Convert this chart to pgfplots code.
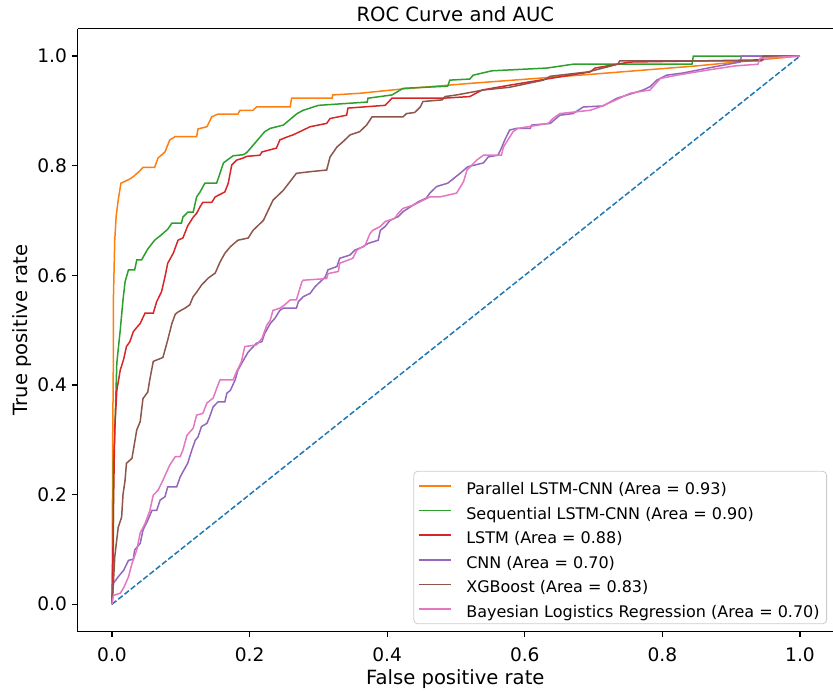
\documentclass[border=0pt]{standalone}
\usepackage{fontspec}
\setmainfont{DejaVu Sans}
\usepackage{pgfplots}
\pgfplotsset{compat=1.18}
\definecolor{cblue}{HTML}{1F77B4}
\definecolor{corange}{HTML}{FF7F0E}
\definecolor{cgreen}{HTML}{2CA02C}
\definecolor{cred}{HTML}{D62728}
\definecolor{cpurple}{HTML}{9467BD}
\definecolor{cbrown}{HTML}{8C564B}
\definecolor{cpink}{HTML}{E377C2}
\begin{document}
\begin{tikzpicture}
\begin{axis}[
  width=377.7pt, height=301.5pt, scale only axis,
  xmin=-0.05, xmax=1.048, ymin=-0.05, ymax=1.05,
  clip=false,
  axis x line*=box, axis y line*=left,
  axis line style={-, line width=0.6pt, black},
  tick pos=left, tick align=outside,
  major tick length=2.8pt,
  every tick/.style={black, line width=0.6pt},
  xtick={0,0.2,0.4,0.6,0.8,1}, ytick={0,0.2,0.4,0.6,0.8,1},
  xticklabels={0.0,0.2,0.4,0.6,0.8,1.0},
  yticklabels={0.0,0.2,0.4,0.6,0.8,1.0},
  tick label style={font=\fontsize{9.3}{11}\selectfont},
  xticklabel style={yshift=-1.5pt},
  yticklabel style={xshift=1pt},
  xlabel={False positive rate},
  xlabel style={font=\fontsize{9.8}{12}\selectfont, at={(axis description cs:0.5,-0.0872)}, anchor=base},
  ylabel={True positive rate},
  ylabel style={font=\fontsize{9.8}{12}\selectfont, at={(axis description cs:-0.0661,0.5)}, anchor=base, rotate=0},
  legend cell align=left,
  legend style={at={(1,0)}, anchor=south east, xshift=-3pt, yshift=3.7pt,
    draw=gray!40, rounded corners=2pt, fill=white, fill opacity=0.8, text opacity=1,
    font=\fontsize{8}{10}\selectfont, inner xsep=2pt, inner ysep=1.5pt,
    nodes={inner xsep=1.5pt, inner ysep=1.6pt, text height=8.5pt, text depth=0.1pt},
    row sep=0.5pt,
    /tikz/every odd column/.append style={column sep=6pt}},
  legend image code/.code={\draw[#1, line width=0.75pt] (0pt,0pt) -- (16pt,0pt);},
  every axis plot/.append style={line width=0.75pt},
]
\addplot[cblue, dash pattern=on 2.8pt off 1.2pt, forget plot] coordinates {(0,0) (1,1)};
\addplot[corange] coordinates {
(0,0) (0.0005,0.1) (0.001,0.3) (0.002,0.45) (0.002,0.555) (0.004,0.664) (0.006,0.707) (0.009,0.737) (0.013,0.768) (0.025,0.775) (0.031,0.78) (0.04,0.79) (0.045,0.797) (0.062,0.797) (0.067,0.814) (0.077,0.825) (0.084,0.847) (0.092,0.853) (0.123,0.853) (0.125,0.867) (0.138,0.871) (0.145,0.889) (0.154,0.894) (0.183,0.894) (0.186,0.901) (0.205,0.901) (0.21,0.907) (0.259,0.907) (0.261,0.923) (0.32,0.923) (0.321,0.929) (0.36,0.932) (0.423,0.94) (0.52,0.95) (0.70,0.967) (0.85,0.982) (1,1)};
\addlegendentry{Parallel LSTM-CNN (Area = 0.93)}
\addplot[cgreen] coordinates {
(0,0) (0.001,0.05) (0.002,0.11) (0.002,0.257) (0.004,0.31) (0.007,0.44) (0.012,0.5) (0.016,0.555) (0.019,0.588) (0.024,0.61) (0.033,0.61) (0.036,0.628) (0.043,0.628) (0.052,0.648) (0.062,0.664) (0.07,0.672) (0.081,0.684) (0.087,0.695) (0.101,0.695) (0.103,0.706) (0.11,0.715) (0.118,0.715) (0.123,0.743) (0.128,0.752) (0.135,0.768) (0.152,0.768) (0.157,0.786) (0.162,0.805) (0.176,0.818) (0.191,0.82) (0.196,0.824) (0.222,0.862) (0.23,0.868) (0.249,0.874) (0.269,0.895) (0.278,0.901) (0.3,0.91) (0.371,0.916) (0.372,0.923) (0.407,0.929) (0.423,0.941) (0.488,0.945) (0.491,0.956) (0.52,0.958) (0.525,0.965) (0.552,0.973) (0.632,0.978) (0.67,0.985) (0.843,0.985) (0.845,1.0) (1,1)};
\addlegendentry{Sequential LSTM-CNN (Area = 0.90)}
\addplot[cred] coordinates {
(0,0) (0.001,0.05) (0.002,0.17) (0.004,0.32) (0.007,0.39) (0.012,0.427) (0.017,0.447) (0.021,0.47) (0.026,0.479) (0.031,0.497) (0.036,0.505) (0.041,0.512) (0.048,0.531) (0.06,0.531) (0.065,0.552) (0.072,0.57) (0.077,0.597) (0.081,0.622) (0.089,0.64) (0.096,0.664) (0.103,0.668) (0.11,0.69) (0.118,0.706) (0.123,0.713) (0.128,0.725) (0.132,0.733) (0.145,0.733) (0.15,0.743) (0.164,0.752) (0.169,0.768) (0.174,0.801) (0.181,0.81) (0.191,0.814) (0.196,0.817) (0.215,0.819) (0.218,0.825) (0.239,0.832) (0.244,0.847) (0.256,0.853) (0.263,0.856) (0.288,0.871) (0.312,0.877) (0.317,0.886) (0.341,0.892) (0.343,0.905) (0.397,0.910) (0.407,0.923) (0.481,0.923) (0.52,0.926) (0.538,0.938) (0.579,0.947) (0.627,0.957) (0.695,0.971) (0.702,0.978) (0.753,0.989) (0.946,0.993) (0.948,1.0) (1,1)};
\addlegendentry{LSTM (Area = 0.88)}
\addplot[cpurple] coordinates {
(0,0) (0.002,0.038) (0.009,0.05) (0.017,0.062) (0.024,0.08) (0.031,0.082) (0.033,0.099) (0.041,0.111) (0.045,0.135) (0.052,0.153) (0.058,0.171) (0.065,0.171) (0.07,0.19) (0.077,0.196) (0.081,0.214) (0.094,0.214) (0.099,0.232) (0.106,0.248) (0.11,0.257) (0.116,0.281) (0.121,0.299) (0.125,0.305) (0.13,0.324) (0.138,0.33) (0.142,0.342) (0.147,0.36) (0.154,0.369) (0.164,0.369) (0.167,0.385) (0.172,0.39) (0.179,0.409) (0.183,0.427) (0.191,0.445) (0.198,0.46) (0.21,0.476) (0.218,0.479) (0.222,0.494) (0.23,0.512) (0.237,0.522) (0.244,0.536) (0.249,0.54) (0.268,0.54) (0.271,0.552) (0.278,0.561) (0.288,0.567) (0.295,0.579) (0.31,0.597) (0.314,0.61) (0.327,0.616) (0.331,0.631) (0.346,0.637) (0.353,0.646) (0.365,0.652) (0.372,0.658) (0.387,0.664) (0.39,0.682) (0.397,0.689) (0.404,0.7) (0.416,0.707) (0.423,0.716) (0.445,0.734) (0.457,0.741) (0.462,0.75) (0.472,0.762) (0.488,0.768) (0.506,0.786) (0.517,0.798) (0.54,0.805) (0.547,0.816) (0.561,0.819) (0.566,0.832) (0.571,0.847) (0.578,0.865) (0.588,0.868) (0.608,0.868) (0.61,0.874) (0.637,0.877) (0.651,0.892) (0.67,0.895) (0.685,0.907) (0.714,0.909) (0.734,0.923) (0.757,0.932) (0.772,0.938) (0.782,0.944) (0.792,0.956) (0.806,0.965) (0.83,0.969) (0.866,0.978) (0.913,0.989) (0.915,1.0) (1,1)};
\addlegendentry{CNN (Area = 0.70)}
\addplot[cbrown] coordinates {
(0,0) (0.001,0.02) (0.002,0.038) (0.004,0.086) (0.009,0.14) (0.014,0.159) (0.016,0.2) (0.019,0.226) (0.021,0.257) (0.029,0.266) (0.036,0.318) (0.041,0.333) (0.045,0.375) (0.052,0.387) (0.055,0.41) (0.06,0.443) (0.074,0.45) (0.081,0.482) (0.087,0.512) (0.092,0.529) (0.096,0.533) (0.106,0.54) (0.113,0.546) (0.118,0.561) (0.123,0.569) (0.130,0.582) (0.14,0.595) (0.15,0.604) (0.157,0.624) (0.164,0.64) (0.172,0.652) (0.183,0.664) (0.198,0.668) (0.205,0.682) (0.22,0.7) (0.234,0.737) (0.249,0.755) (0.268,0.786) (0.288,0.789) (0.312,0.792) (0.317,0.816) (0.327,0.834) (0.336,0.844) (0.346,0.856) (0.36,0.862) (0.37,0.874) (0.378,0.889) (0.423,0.889) (0.428,0.895) (0.44,0.897) (0.448,0.907) (0.452,0.917) (0.48,0.92) (0.484,0.926) (0.501,0.929) (0.54,0.938) (0.578,0.943) (0.627,0.956) (0.637,0.963) (0.692,0.971) (0.735,0.985) (0.738,0.991) (0.944,0.991) (0.946,1.0) (1,1)};
\addlegendentry{XGBoost (Area = 0.83)}
\addplot[cpink] coordinates {
(0,0) (0.002,0.016) (0.012,0.02) (0.017,0.03) (0.024,0.05) (0.029,0.074) (0.036,0.099) (0.041,0.13) (0.048,0.147) (0.055,0.171) (0.06,0.199) (0.067,0.208) (0.074,0.226) (0.084,0.254) (0.092,0.269) (0.099,0.269) (0.103,0.281) (0.109,0.308) (0.118,0.321) (0.123,0.345) (0.132,0.348) (0.138,0.367) (0.147,0.376) (0.154,0.4) (0.157,0.409) (0.176,0.409) (0.181,0.424) (0.188,0.442) (0.193,0.47) (0.21,0.473) (0.218,0.485) (0.225,0.509) (0.23,0.518) (0.234,0.536) (0.244,0.54) (0.251,0.546) (0.259,0.555) (0.268,0.555) (0.276,0.588) (0.278,0.591) (0.312,0.594) (0.314,0.603) (0.329,0.607) (0.331,0.622) (0.35,0.631) (0.356,0.646) (0.368,0.655) (0.375,0.676) (0.379,0.682) (0.39,0.689) (0.397,0.698) (0.411,0.704) (0.416,0.713) (0.423,0.722) (0.438,0.728) (0.462,0.743) (0.477,0.743) (0.501,0.75) (0.511,0.771) (0.516,0.792) (0.53,0.81) (0.54,0.819) (0.566,0.819) (0.569,0.834) (0.583,0.862) (0.59,0.868) (0.634,0.877) (0.641,0.886) (0.651,0.895) (0.695,0.901) (0.709,0.907) (0.731,0.919) (0.753,0.932) (0.782,0.938) (0.797,0.959) (0.821,0.965) (0.864,0.974) (0.906,0.982) (0.939,0.985) (0.942,0.996) (1,1)};
\addlegendentry{Bayesian Logistics Regression (Area = 0.70)}
\node[font=\fontsize{9.8}{12}\selectfont, anchor=base, inner sep=0pt] at (axis description cs:0.5,1.011) {ROC Curve and AUC};
\coordinate (bbsw) at (rel axis cs:0,0);
\coordinate (bbne) at (rel axis cs:1,1);
\end{axis}
\pgfresetboundingbox
\path[use as bounding box] ([xshift=-38.8pt, yshift=-29.8pt]bbsw) rectangle ([yshift=14.3pt]bbne);
\end{tikzpicture}
\end{document}
